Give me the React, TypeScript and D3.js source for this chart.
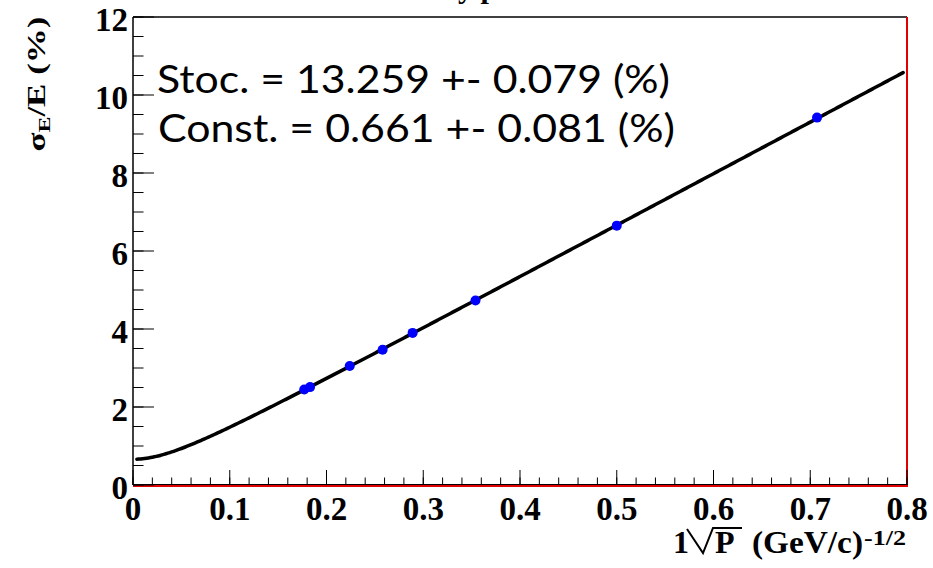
import React from "react";
import * as d3 from "d3";

const X_TICKS = [0, 0.1, 0.2, 0.3, 0.4, 0.5, 0.6, 0.7, 0.8];
const X_TICK_LABELS = ["0", "0.1", "0.2", "0.3", "0.4", "0.5", "0.6", "0.7", "0.8"];
const Y_TICKS = [0, 2, 4, 6, 8, 10, 12];
const Y_TICK_LABELS = ["0", "2", "4", "6", "8", "10", "12"];

const POINTS_X = [0.177, 0.183, 0.224, 0.258, 0.289, 0.354, 0.5, 0.707];
const POINTS_Y = [2.45, 2.51, 3.05, 3.47, 3.9, 4.73, 6.65, 9.42];

const FIT_STOC = 13.259;
const FIT_CONST = 0.661;
const FIT_RANGE = [0.004, 0.796];

const LEGEND_LINES = ["Stoc. = 13.259 +- 0.079 (%)", "Const. = 0.661 +- 0.081 (%)"];
const TITLE_LEFT = "Calorimetr";
const TITLE_RIGHT = "y performance";

const W = 933;
const H = 568;
const L = 133;
const R = 907;
const T = 17;
const B = 485;

export default function App() {
  const x = d3.scaleLinear().domain([0, 0.8]).range([L, R]);
  const y = d3.scaleLinear().domain([0, 12]).range([B, T]);

  const xMinor = d3.range(0, 0.8001, 0.02);
  const yMinor = d3.range(0, 12.001, 0.5);

  const fitXs = d3.range(FIT_RANGE[0], FIT_RANGE[1] + 1e-9, 0.002);
  const fitFn = (v: number) => Math.sqrt((FIT_STOC * v) ** 2 + FIT_CONST ** 2);
  const line = d3
    .line<number>()
    .x((v) => x(v))
    .y((v) => y(fitFn(v)))
    .curve(d3.curveLinear);

  const serif = "'Liberation Serif', 'Times New Roman', serif";

  return (
    <svg
      width={W}
      height={H}
      viewBox={`0 0 ${W} ${H}`}
      style={{ position: "absolute", left: 0, top: 0, background: "#fff" }}
    >
      <rect x={0} y={0} width={W} height={H} fill="#fff" />
      {/* clipped title */}
      <text x={458} y={-2} textAnchor="end" fontFamily={serif} fontWeight="bold" fontSize={30} fill="#000">
        {TITLE_LEFT}
      </text>
      <text x={458} y={-2} textAnchor="start" fontFamily={serif} fontWeight="bold" fontSize={30} fill="#000">
        {TITLE_RIGHT}
      </text>

      {/* frame */}
      <line x1={L} x2={R} y1={T} y2={T} stroke="#000" strokeWidth={1.5} />
      <line x1={L} x2={L} y1={T} y2={B} stroke="#000" strokeWidth={1.5} />
      <line x1={R} x2={R} y1={T} y2={B + 1} stroke="#e00000" strokeWidth={2} />
      <line x1={L} x2={R} y1={B - 0.5} y2={B - 0.5} stroke="#000" strokeWidth={1.2} />
      <line x1={L} x2={R + 1} y1={B + 1} y2={B + 1} stroke="#e00000" strokeWidth={2} />

      {/* x ticks */}
      {xMinor.map((v, i) => (
        <line key={"xm" + i} x1={x(v)} x2={x(v)} y1={B} y2={B - 7.5} stroke="#000" strokeWidth={1} />
      ))}
      {X_TICKS.map((v, i) => (
        <line key={"xM" + i} x1={x(v)} x2={x(v)} y1={B} y2={B - 15} stroke="#000" strokeWidth={1} />
      ))}
      {/* y ticks */}
      {yMinor.map((v, i) => (
        <line key={"ym" + i} x1={L} x2={L + 10.5} y1={y(v)} y2={y(v)} stroke="#000" strokeWidth={1} />
      ))}
      {Y_TICKS.map((v, i) => (
        <line key={"yM" + i} x1={L} x2={L + 21} y1={y(v)} y2={y(v)} stroke="#000" strokeWidth={1} />
      ))}

      {/* tick labels */}
      {X_TICKS.map((v, i) => (
        <text
          key={"xl" + i}
          x={x(v)}
          y={B + 35}
          textAnchor="middle"
          fontFamily={serif}
          fontWeight="bold"
          fontSize={33}
          fill="#000"
        >
          {X_TICK_LABELS[i]}
        </text>
      ))}
      {Y_TICKS.map((v, i) => (
        <text
          key={"yl" + i}
          x={L - 5}
          y={y(v) + 14}
          textAnchor="end"
          fontFamily={serif}
          fontWeight="bold"
          fontSize={33}
          fill="#000"
        >
          {Y_TICK_LABELS[i]}
        </text>
      ))}

      {/* y axis title */}
      <g transform="translate(45,84) rotate(-90) scale(1.4,1)">
        <text x={0} y={0} textAnchor="middle" fontFamily={serif} fontWeight="bold" fontSize={25} fill="#000">
          σ<tspan fontSize={17} dy={5}>E</tspan>
          <tspan dy={-5}>/E (%)</tspan>
        </text>
      </g>

      {/* x axis title */}
      <g fontFamily={serif} fontWeight="bold" fill="#000">
        <text x={673} y={553} fontSize={32}>1</text>
        <path d="M687,529 L703,553 L713,528 L742,528" fill="none" stroke="#000" strokeWidth={2} />
        <text x={715} y={553} fontSize={32}>P</text>
        <text x={752} y={553} fontSize={32} textLength={111} lengthAdjust="spacingAndGlyphs">
          (GeV/c)
        </text>
        <text x={864} y={545} fontSize={21} textLength={42} lengthAdjust="spacingAndGlyphs">
          -1/2
        </text>
      </g>

      {/* fit curve */}
      <path d={line(fitXs) || ""} fill="none" stroke="#000" strokeWidth={3.5} strokeLinecap="round" />

      {/* points */}
      {POINTS_X.map((v, i) => (
        <circle key={"p" + i} cx={x(v)} cy={y(POINTS_Y[i])} r={5} fill="#0000ff" />
      ))}

      {/* legend */}
      <text
        x={157}
        y={93}
        fontFamily="Lato, 'Open Sans', sans-serif"
        fontSize={39}
        fill="#000"
        textLength={513}
        lengthAdjust="spacingAndGlyphs"
      >
        {LEGEND_LINES[0]}
      </text>
      <text
        x={158}
        y={142}
        fontFamily="Lato, 'Open Sans', sans-serif"
        fontSize={39}
        fill="#000"
        textLength={517}
        lengthAdjust="spacingAndGlyphs"
      >
        {LEGEND_LINES[1]}
      </text>
    </svg>
  );
}
